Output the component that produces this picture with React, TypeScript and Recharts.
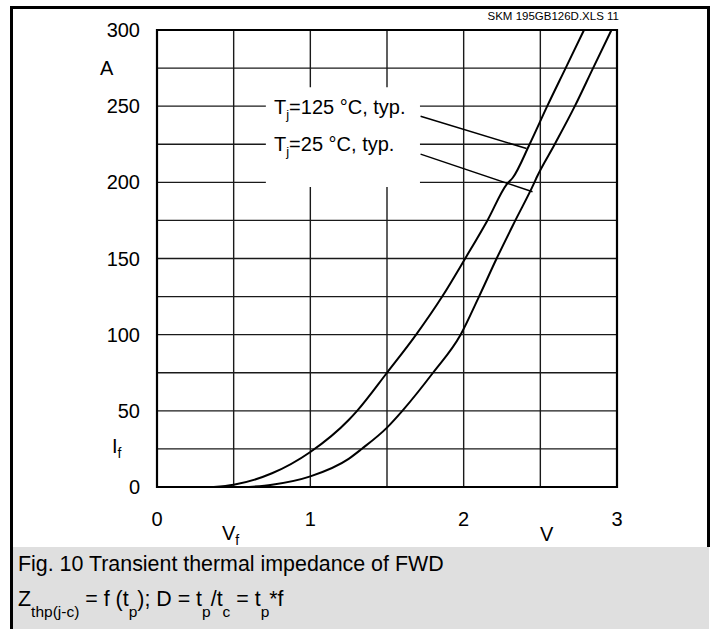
import React from 'react';
import { LineChart, Line, XAxis, YAxis, CartesianGrid, ReferenceArea, ReferenceLine } from 'recharts';

// ---- data ----
const xTicks = [0, 0.5, 1, 1.5, 2, 2.5, 3];
const yTicks = [0, 25, 50, 75, 100, 125, 150, 175, 200, 225, 250, 275, 300];

// Tj = 125 °C, typ.
const vf125 = [0.37, 0.5, 0.75, 1.0, 1.25, 1.305, 1.5, 1.69, 1.86, 2.01, 2.155, 2.283, 2.32, 2.43, 2.545, 2.665, 2.785];
const if125 = [0, 1.5, 9, 23, 44, 50, 75, 100, 125, 150, 175, 199, 203, 225, 250, 275, 300];

// Tj = 25 °C, typ.
const vf25 = [0.6, 0.75, 1.0, 1.25, 1.335, 1.5, 1.6, 1.8, 1.98, 2.1, 2.215, 2.337, 2.457, 2.475, 2.594, 2.725, 2.844, 2.964];
const if25 = [0, 1.5, 7, 18.5, 25, 39, 50, 75, 100, 125, 150, 175, 199, 203, 225, 250, 275, 300];

const data125 = vf125.map((v, i) => ({ v, i: if125[i] }));
const data25 = vf25.map((v, i) => ({ v, i: if25[i] }));

const FONT = '"Liberation Sans", Arial, Helvetica, sans-serif';

// place a text by its baseline
const T = ({ left, base, size, children, style }: any) => (
  <div
    style={{
      position: 'absolute',
      left,
      top: base - 0.8465 * size,
      fontSize: size,
      lineHeight: `${size}px`,
      fontFamily: FONT,
      color: '#000',
      whiteSpace: 'nowrap',
      ...style,
    }}
  >
    {children}
  </div>
);

const Sub = ({ children, size = 14, shift = 5 }: any) => (
  <span style={{ fontSize: size, position: 'relative', top: shift, lineHeight: 0 }}>{children}</span>
);

export default function App() {
  return (
    <div style={{ position: 'absolute', left: 0, top: 0, width: 715, height: 629, background: '#fff', overflow: 'hidden' }}>
      <div style={{ position: 'absolute', left: 0, top: 0 }}>
        <LineChart width={715} height={547} margin={{ top: 30, right: 98, bottom: 20, left: 0 }}>
          <CartesianGrid stroke="#1a1a1a" strokeWidth={1.4} />
          <XAxis
            dataKey="v"
            type="number"
            domain={[0, 3]}
            ticks={xTicks}
            interval={0}
            height={40}
            axisLine={false}
            tickLine={false}
            tickSize={0}
            tickMargin={25}
            tickFormatter={(v: number) => (Number.isInteger(v) ? String(v) : '')}
            tick={{ fill: '#000', fontSize: 20, fontFamily: FONT }}
            allowDuplicatedCategory={false}
          />
          <YAxis
            dataKey="i"
            type="number"
            domain={[0, 300]}
            ticks={yTicks}
            interval={0}
            width={157}
            axisLine={false}
            tickLine={false}
            tickSize={0}
            tickMargin={17}
            tickFormatter={(v: number) => (v % 50 === 0 ? String(v) : '')}
            tick={{ fill: '#000', fontSize: 20, fontFamily: FONT }}
          />
          <ReferenceArea x1={0.71} x2={1.715} y1={197} y2={262.5} fill="#fff" fillOpacity={1} stroke="none" />
          <ReferenceArea x1={0} x2={3} y1={0} y2={300} fill="none" stroke="#000" strokeWidth={2.2} />
          <ReferenceLine segment={[{ x: 1.719, y: 243.4 }, { x: 2.41, y: 222.2 }]} stroke="#000" strokeWidth={1.5} />
          <ReferenceLine segment={[{ x: 1.719, y: 218.5 }, { x: 2.449, y: 193.8 }]} stroke="#000" strokeWidth={1.5} />
          <Line data={data125} dataKey="i" type="monotone" stroke="#000" strokeWidth={2} dot={false} isAnimationActive={false} />
          <Line data={data25} dataKey="i" type="monotone" stroke="#000" strokeWidth={2} dot={false} isAnimationActive={false} />
        </LineChart>
      </div>

      {/* frame */}
      <div style={{ position: 'absolute', left: 10, top: 6, width: 700, height: 541, boxSizing: 'border-box', borderTop: '3px solid #000', borderLeft: '3px solid #000', borderRight: '3px solid #000' }} />
      <div style={{ position: 'absolute', left: 10, top: 547, width: 3, height: 82, background: '#000' }} />
      <div style={{ position: 'absolute', left: 13, top: 547, width: 696, height: 82, background: '#dfdfdf' }} />

      {/* texts */}
      <T left={0} base={21} size={11.5} style={{ width: 619, textAlign: 'right' }}>SKM 195GB126D.XLS 11</T>
      <T left={100} base={75} size={20}>A</T>
      <T left={112} base={453} size={20}>I<Sub>f</Sub></T>
      <T left={222} base={540} size={20}>V<Sub>f</Sub></T>
      <T left={540} base={541} size={20}>V</T>
      <T left={274} base={114} size={20}>T<Sub size={13}>j</Sub>=125 °C, typ.</T>
      <T left={274} base={151} size={20}>T<Sub size={13}>j</Sub>=25 °C, typ.</T>
      <T left={18} base={572} size={21.4}>Fig. 10 Transient thermal impedance of FWD</T>
      <T left={18} base={607} size={21.4}>
        Z<Sub size={15.5} shift={11}>thp(j-c)</Sub> = f (t<Sub size={15.5} shift={11}>p</Sub>); D = t<Sub size={15.5} shift={11}>p</Sub>/t<Sub size={15.5} shift={11}>c</Sub> = t<Sub size={15.5} shift={11}>p</Sub>*f
      </T>
    </div>
  );
}
